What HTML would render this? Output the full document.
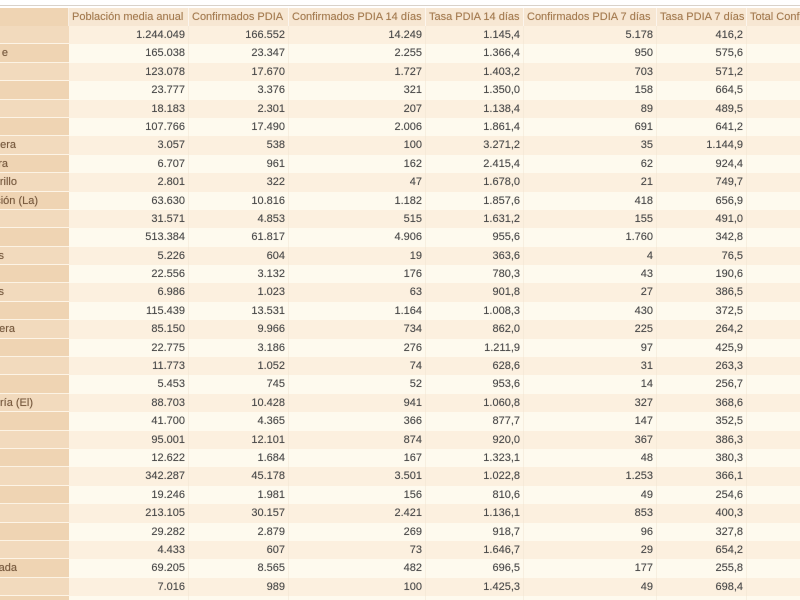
<!DOCTYPE html>
<html>
<head>
<meta charset="utf-8">
<style>
*{margin:0;padding:0;box-sizing:border-box}
html,body{width:800px;height:600px;overflow:hidden;background:#fff}
body{position:relative;font-family:"Liberation Sans",Arial,sans-serif;font-size:11px}
.topline{position:absolute;left:0;top:5px;width:800px;height:1px;background:#d9d2ca}
.hdr{position:absolute;left:0;top:8px;width:800px;height:18px;display:flex;background:#f7e7d3;color:#a47b50;line-height:18px;text-shadow:0 0 0.6px rgba(164,123,80,0.6)}
.rows{position:absolute;left:0;top:26px;width:800px}
.r{height:18.4px;display:flex;line-height:18.4px;color:#4a4a4a;background:#fefaee;text-shadow:0 0 0.6px rgba(60,60,60,0.5)}
.r.o{background:#fcf0df}
.c{flex:none;white-space:nowrap;overflow:hidden;padding:0 3px;text-align:right;border-right:1px solid rgba(240,228,210,0.5)}
.hdr .c{text-align:left;padding:0 3px;border-right:1px solid rgba(255,255,255,0.6)}
.l{width:69px;position:relative;background:#efd4b3;border-bottom:1px solid rgba(255,250,240,0.8);border-right:none;color:#7b5a3c;padding:0}
.r.o .l{background:#f2dabd}
.hdr .l{background:#efd4b3;border-bottom:none}
.l span{position:absolute;top:0}
.c1{width:120px}.c2{width:100px}.c3{width:137px}.c4{width:98px}.c5{width:133px}.c6{width:90px}.c7{width:60px;border-right:none}
</style>
</head>
<body>
<div class="topline"></div>
<div class="hdr">
<div class="c l"></div>
<div class="c c1">Población media anual</div>
<div class="c c2">Confirmados PDIA</div>
<div class="c c3">Confirmados PDIA 14 días</div>
<div class="c c4">Tasa PDIA 14 días</div>
<div class="c c5">Confirmados PDIA 7 días</div>
<div class="c c6">Tasa PDIA 7 días</div>
<div class="c c7">Total Confirmados</div>
</div>
<div class="rows">
<div class="r o"><div class="c l"></div><div class="c c1">1.244.049</div><div class="c c2">166.552</div><div class="c c3">14.249</div><div class="c c4">1.145,4</div><div class="c c5">5.178</div><div class="c c6">416,2</div><div class="c c7"></div></div>
<div class="r"><div class="c l"><span style="right:61px">e</span></div><div class="c c1">165.038</div><div class="c c2">23.347</div><div class="c c3">2.255</div><div class="c c4">1.366,4</div><div class="c c5">950</div><div class="c c6">575,6</div><div class="c c7"></div></div>
<div class="r o"><div class="c l"></div><div class="c c1">123.078</div><div class="c c2">17.670</div><div class="c c3">1.727</div><div class="c c4">1.403,2</div><div class="c c5">703</div><div class="c c6">571,2</div><div class="c c7"></div></div>
<div class="r"><div class="c l"></div><div class="c c1">23.777</div><div class="c c2">3.376</div><div class="c c3">321</div><div class="c c4">1.350,0</div><div class="c c5">158</div><div class="c c6">664,5</div><div class="c c7"></div></div>
<div class="r o"><div class="c l"></div><div class="c c1">18.183</div><div class="c c2">2.301</div><div class="c c3">207</div><div class="c c4">1.138,4</div><div class="c c5">89</div><div class="c c6">489,5</div><div class="c c7"></div></div>
<div class="r"><div class="c l"></div><div class="c c1">107.766</div><div class="c c2">17.490</div><div class="c c3">2.006</div><div class="c c4">1.861,4</div><div class="c c5">691</div><div class="c c6">641,2</div><div class="c c7"></div></div>
<div class="r o"><div class="c l"><span style="right:53px">era</span></div><div class="c c1">3.057</div><div class="c c2">538</div><div class="c c3">100</div><div class="c c4">3.271,2</div><div class="c c5">35</div><div class="c c6">1.144,9</div><div class="c c7"></div></div>
<div class="r"><div class="c l"><span style="right:61px">ra</span></div><div class="c c1">6.707</div><div class="c c2">961</div><div class="c c3">162</div><div class="c c4">2.415,4</div><div class="c c5">62</div><div class="c c6">924,4</div><div class="c c7"></div></div>
<div class="r o"><div class="c l"><span style="right:52px">rillo</span></div><div class="c c1">2.801</div><div class="c c2">322</div><div class="c c3">47</div><div class="c c4">1.678,0</div><div class="c c5">21</div><div class="c c6">749,7</div><div class="c c7"></div></div>
<div class="r"><div class="c l"><span style="right:31px">ción (La)</span></div><div class="c c1">63.630</div><div class="c c2">10.816</div><div class="c c3">1.182</div><div class="c c4">1.857,6</div><div class="c c5">418</div><div class="c c6">656,9</div><div class="c c7"></div></div>
<div class="r o"><div class="c l"></div><div class="c c1">31.571</div><div class="c c2">4.853</div><div class="c c3">515</div><div class="c c4">1.631,2</div><div class="c c5">155</div><div class="c c6">491,0</div><div class="c c7"></div></div>
<div class="r"><div class="c l"></div><div class="c c1">513.384</div><div class="c c2">61.817</div><div class="c c3">4.906</div><div class="c c4">955,6</div><div class="c c5">1.760</div><div class="c c6">342,8</div><div class="c c7"></div></div>
<div class="r o"><div class="c l"><span style="right:65px">s</span></div><div class="c c1">5.226</div><div class="c c2">604</div><div class="c c3">19</div><div class="c c4">363,6</div><div class="c c5">4</div><div class="c c6">76,5</div><div class="c c7"></div></div>
<div class="r"><div class="c l"></div><div class="c c1">22.556</div><div class="c c2">3.132</div><div class="c c3">176</div><div class="c c4">780,3</div><div class="c c5">43</div><div class="c c6">190,6</div><div class="c c7"></div></div>
<div class="r o"><div class="c l"><span style="right:65px">s</span></div><div class="c c1">6.986</div><div class="c c2">1.023</div><div class="c c3">63</div><div class="c c4">901,8</div><div class="c c5">27</div><div class="c c6">386,5</div><div class="c c7"></div></div>
<div class="r"><div class="c l"></div><div class="c c1">115.439</div><div class="c c2">13.531</div><div class="c c3">1.164</div><div class="c c4">1.008,3</div><div class="c c5">430</div><div class="c c6">372,5</div><div class="c c7"></div></div>
<div class="r o"><div class="c l"><span style="right:54px">era</span></div><div class="c c1">85.150</div><div class="c c2">9.966</div><div class="c c3">734</div><div class="c c4">862,0</div><div class="c c5">225</div><div class="c c6">264,2</div><div class="c c7"></div></div>
<div class="r"><div class="c l"></div><div class="c c1">22.775</div><div class="c c2">3.186</div><div class="c c3">276</div><div class="c c4">1.211,9</div><div class="c c5">97</div><div class="c c6">425,9</div><div class="c c7"></div></div>
<div class="r o"><div class="c l"></div><div class="c c1">11.773</div><div class="c c2">1.052</div><div class="c c3">74</div><div class="c c4">628,6</div><div class="c c5">31</div><div class="c c6">263,3</div><div class="c c7"></div></div>
<div class="r"><div class="c l"></div><div class="c c1">5.453</div><div class="c c2">745</div><div class="c c3">52</div><div class="c c4">953,6</div><div class="c c5">14</div><div class="c c6">256,7</div><div class="c c7"></div></div>
<div class="r o"><div class="c l"><span style="right:36px">ría (El)</span></div><div class="c c1">88.703</div><div class="c c2">10.428</div><div class="c c3">941</div><div class="c c4">1.060,8</div><div class="c c5">327</div><div class="c c6">368,6</div><div class="c c7"></div></div>
<div class="r"><div class="c l"></div><div class="c c1">41.700</div><div class="c c2">4.365</div><div class="c c3">366</div><div class="c c4">877,7</div><div class="c c5">147</div><div class="c c6">352,5</div><div class="c c7"></div></div>
<div class="r o"><div class="c l"></div><div class="c c1">95.001</div><div class="c c2">12.101</div><div class="c c3">874</div><div class="c c4">920,0</div><div class="c c5">367</div><div class="c c6">386,3</div><div class="c c7"></div></div>
<div class="r"><div class="c l"></div><div class="c c1">12.622</div><div class="c c2">1.684</div><div class="c c3">167</div><div class="c c4">1.323,1</div><div class="c c5">48</div><div class="c c6">380,3</div><div class="c c7"></div></div>
<div class="r o"><div class="c l"></div><div class="c c1">342.287</div><div class="c c2">45.178</div><div class="c c3">3.501</div><div class="c c4">1.022,8</div><div class="c c5">1.253</div><div class="c c6">366,1</div><div class="c c7"></div></div>
<div class="r"><div class="c l"></div><div class="c c1">19.246</div><div class="c c2">1.981</div><div class="c c3">156</div><div class="c c4">810,6</div><div class="c c5">49</div><div class="c c6">254,6</div><div class="c c7"></div></div>
<div class="r o"><div class="c l"></div><div class="c c1">213.105</div><div class="c c2">30.157</div><div class="c c3">2.421</div><div class="c c4">1.136,1</div><div class="c c5">853</div><div class="c c6">400,3</div><div class="c c7"></div></div>
<div class="r"><div class="c l"></div><div class="c c1">29.282</div><div class="c c2">2.879</div><div class="c c3">269</div><div class="c c4">918,7</div><div class="c c5">96</div><div class="c c6">327,8</div><div class="c c7"></div></div>
<div class="r o"><div class="c l"></div><div class="c c1">4.433</div><div class="c c2">607</div><div class="c c3">73</div><div class="c c4">1.646,7</div><div class="c c5">29</div><div class="c c6">654,2</div><div class="c c7"></div></div>
<div class="r"><div class="c l"><span style="right:52px">ada</span></div><div class="c c1">69.205</div><div class="c c2">8.565</div><div class="c c3">482</div><div class="c c4">696,5</div><div class="c c5">177</div><div class="c c6">255,8</div><div class="c c7"></div></div>
<div class="r o"><div class="c l"></div><div class="c c1">7.016</div><div class="c c2">989</div><div class="c c3">100</div><div class="c c4">1.425,3</div><div class="c c5">49</div><div class="c c6">698,4</div><div class="c c7"></div></div>
<div class="r"><div class="c l"></div><div class="c c1"></div><div class="c c2"></div><div class="c c3"></div><div class="c c4"></div><div class="c c5"></div><div class="c c6"></div><div class="c c7"></div></div>
</div>
</body>
</html>
